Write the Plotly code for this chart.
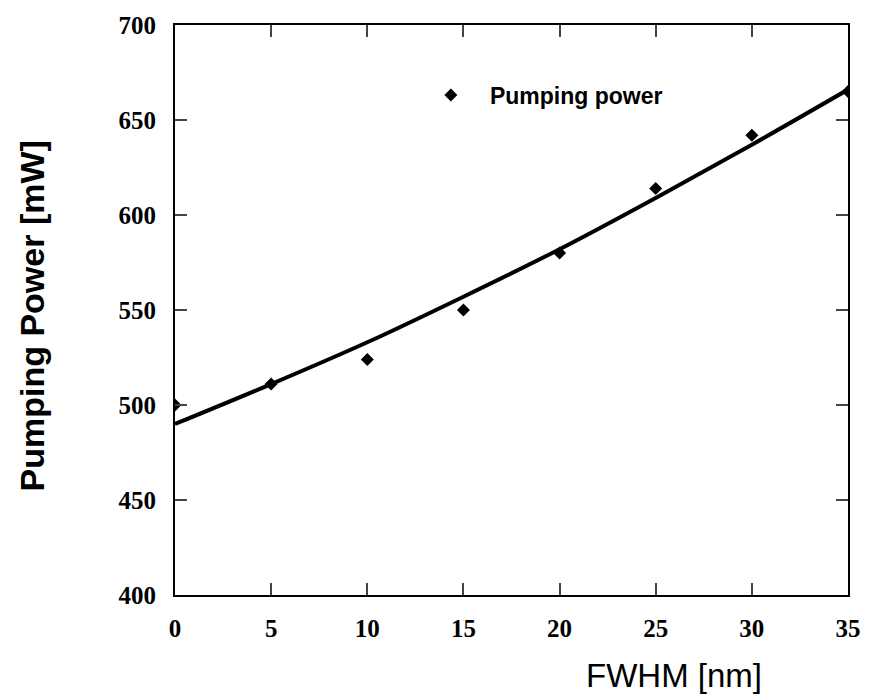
import plotly.graph_objects as go

fwhm = [0, 5, 10, 15, 20, 25, 30, 35]
pump_power = [500, 511, 524, 550, 580, 614, 642, 665]
fit_x = [0, 5, 10, 15, 20, 25, 30, 35]
fit_y = [490, 511, 533, 557, 582, 609, 637, 666]
x_ticks = [0, 5, 10, 15, 20, 25, 30, 35]
y_ticks = [400, 450, 500, 550, 600, 650, 700]

fig = go.Figure()
fig.add_trace(go.Scatter(x=fit_x, y=fit_y, mode="lines", line=dict(color="black", width=4, shape="spline"),
                         showlegend=False))
fig.add_trace(go.Scatter(x=fwhm, y=pump_power, mode="markers", name="Pumping power",
                         marker=dict(symbol="diamond", size=10, color="black")))

tickfont = dict(family="Liberation Serif", size=25, color="black")
fig.update_layout(
    width=882, height=696,
    margin=dict(l=175, r=34, t=22, b=101),
    paper_bgcolor="white", plot_bgcolor="white",
    showlegend=True,
    legend=dict(x=0.352, y=0.877, xanchor="left", yanchor="middle", itemwidth=68,
                font=dict(family="Liberation Sans", size=23, color="black", weight="bold"),
                bgcolor="rgba(0,0,0,0)"),
    xaxis=dict(range=[0, 35], tickvals=x_ticks, ticks="inside", ticklen=12, tickwidth=2,
               showline=True, linewidth=2, linecolor="black", mirror="ticks", showgrid=False,
               zeroline=False, tickfont=dict(tickfont, weight="bold"), ticklabelstandoff=10),
    yaxis=dict(range=[400, 700], tickvals=y_ticks, ticks="inside", ticklen=12, tickwidth=2,
               showline=True, linewidth=2, linecolor="black", mirror="ticks", showgrid=False,
               zeroline=False, tickfont=dict(tickfont, weight="bold"), ticklabelstandoff=12),
    annotations=[
        dict(text="FWHM [nm]", xref="paper", yref="paper", x=(674 - 175) / 673, y=-(676 - 595) / 573,
             xanchor="center", yanchor="middle", showarrow=False,
             font=dict(family="Liberation Sans", size=33, color="black")),
        dict(text="Pumping Power [mW]", xref="paper", yref="paper", x=-(175 - 32) / 673, y=(595 - 315) / 573,
             xanchor="center", yanchor="middle", showarrow=False, textangle=-90,
             font=dict(family="Liberation Sans", size=34, color="black", weight="bold")),
    ],
)

fig.write_html("out.html")
